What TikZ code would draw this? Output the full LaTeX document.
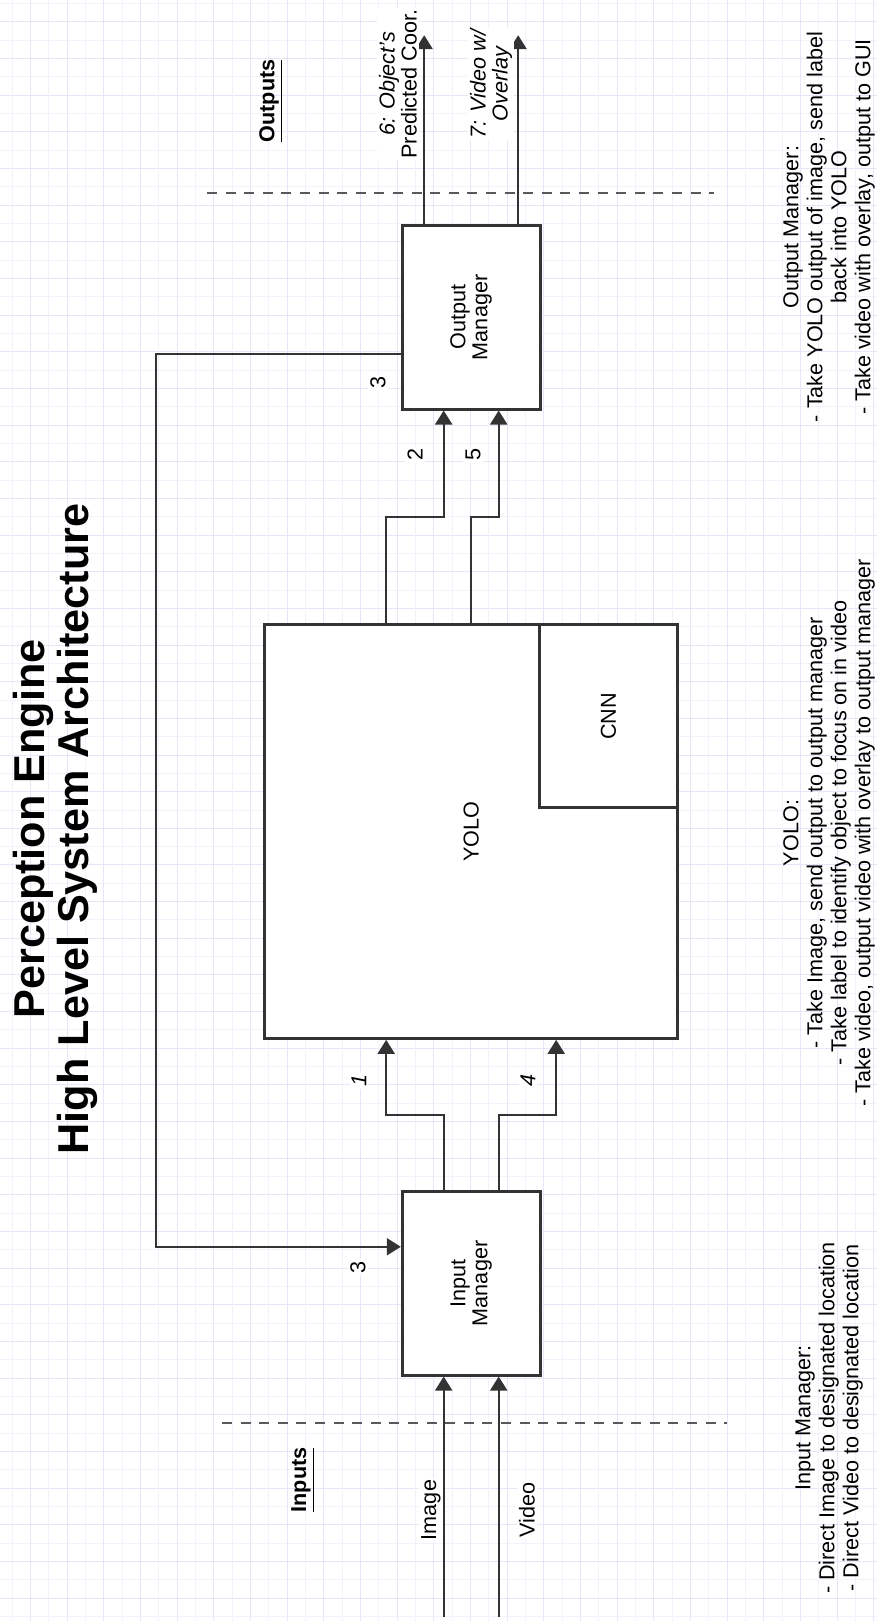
\documentclass[tikz,border=0pt]{standalone}
\usepackage{fontspec}
\setmainfont{Liberation Sans}
\usepackage{xcolor}
\usepackage{tikz}
\usetikzlibrary{arrows.meta, positioning, calc}
\definecolor{gridminor}{RGB}{242,242,253}
\definecolor{gridmajor}{RGB}{230,230,249}
\definecolor{linegray}{RGB}{51,51,51}
\tikzstyle{block} = [rectangle, draw=linegray, line width=1.5pt, fill=white, inner sep=0pt, minimum width=91.65pt, minimum height=68.85pt, align=center, font=\fontsize{10.8}{11}\selectfont]
\tikzstyle{arrow} = [draw=linegray, line width=1pt, -{Triangle[length=7pt, width=8.5pt]}]
\tikzstyle{divider} = [draw=black!65, line width=1pt, dash pattern=on 5pt off 4.3pt]
\tikzstyle{edgelabel} = [fill=white, inner sep=1pt, align=center, font=\fontsize{10.8}{11}\selectfont]
\tikzstyle{note} = [inner sep=0pt, align=center, font=\fontsize{10.8}{12}\selectfont]
\tikzstyle{heading} = [inner sep=0pt, align=center, font=\fontsize{21.6}{22}\selectfont\bfseries]

\begin{document}
\begin{tikzpicture}[x=0.5pt, y=0.5pt, rotate=90, transform shape]
    \useasboundingbox (0,0) rectangle (1621,877);
    \foreach \k in {0,2,...,88} \draw[gridminor, line width=0.5pt] (1617.5-18.33*\k,0) -- (1617.5-18.33*\k,877);
    \foreach \k in {1,3,...,87} \draw[gridmajor, line width=0.5pt] (1617.5-18.33*\k,0) -- (1617.5-18.33*\k,877);
    \foreach \k in {0,2,...,46} \draw[gridminor, line width=0.5pt] (0,864.7-18.33*\k) -- (1621,864.7-18.33*\k);
    \foreach \k in {1,3,...,47} \draw[gridmajor, line width=0.5pt] (0,864.7-18.33*\k) -- (1621,864.7-18.33*\k);

    \node (title) [heading] at (792,822) {Perception Engine\\High Level System Architecture};

    \node (yolo) [block, minimum width=206.85pt, minimum height=206.2pt] at (789.5,405.8) {YOLO};
    \node (cnn) [block, anchor=south east] at (yolo.south east) {CNN};
    \node (inman) [block, left=75.2pt of yolo] {Input\\Manager};
    \node (outman) [block, right=106.3pt of yolo] {Output\\Manager};

    \draw [divider] (198,655) -- (198,150);
    \draw [divider] (1428,670) -- (1428,163);
    \node (inputs) [note] at (141,574) {\textbf{\underline{Inputs}}};
    \node (outputs) [note] at (1520,606) {\textbf{\underline{Outputs}}};

    \coordinate (imgsrc) at ([xshift=-120pt, yshift=13.75pt]inman.west);
    \coordinate (vidsrc) at ([xshift=-120pt, yshift=-13.75pt]inman.west);
    \draw [arrow] (imgsrc) -- ([yshift=13.75pt]inman.west);
    \draw [arrow] (vidsrc) -- ([yshift=-13.75pt]inman.west);
    \node (imglbl) [edgelabel] at (111,446) {Image};
    \node (vidlbl) [edgelabel] at (111,350) {Video};

    \draw [arrow] ([yshift=13.75pt]inman.east) -- ++(75.7,0) |- ([yshift=42.5pt]yolo.west);
    \draw [arrow] ([yshift=-13.75pt]inman.east) -- ++(75.7,0) |- ([yshift=-42.5pt]yolo.west);
    \node (lbl1) [edgelabel, font=\fontsize{10.8}{11}\selectfont\itshape] at (540,518) {1};
    \node (lbl4) [edgelabel, font=\fontsize{10.8}{11}\selectfont\itshape] at (540,349) {4};

    \draw [arrow] ([yshift=42.5pt]yolo.east) -- ++(106.6,0) |- ([yshift=13.75pt]outman.west);
    \draw [arrow] (yolo.east) -- ++(106.6,0) |- ([yshift=-13.75pt]outman.west);
    \node (lbl2) [edgelabel] at (1166,462) {2};
    \node (lbl5) [edgelabel] at (1166,404) {5};

    \draw [arrow] ([xshift=-18.4pt]outman.north) -- ++(0,245) -| ([xshift=18.3pt]inman.north);
    \node (lbl3out) [edgelabel] at (1238,499) {3};
    \node (lbl3in) [edgelabel] at (354,519) {3};

    \draw [arrow] ([yshift=23.5pt]outman.east) -- ++(189,0) coordinate (objend);
    \draw [arrow] ([yshift=-23.5pt]outman.east) -- ++(189,0) coordinate (vidend);
    \node (objlbl) [edgelabel] at (1537,479) {\textit{6: Object's}\\Predicted Coor.};
    \node (ovllbl) [edgelabel, font=\fontsize{10.8}{11}\selectfont\itshape] at (1537,386) {7: Video w/\\Overlay};

    \node (indesc) [note, anchor=north] at (203,82) {Input Manager:\\- Direct Image to designated location\\- Direct Video to designated location};
    \node (yolodesc) [note, anchor=north] at (788,94) {YOLO:\\- Take Image, send output to output manager\\- Take label to identify object to focus on in video\\- Take video, output video with overlay to output manager};
    \node (outdesc) [note, anchor=north] at (1394,94) {Output Manager:\\- Take YOLO output of image, send label\\back into YOLO\\- Take video with overlay, output to GUI};
\end{tikzpicture}
\end{document}
